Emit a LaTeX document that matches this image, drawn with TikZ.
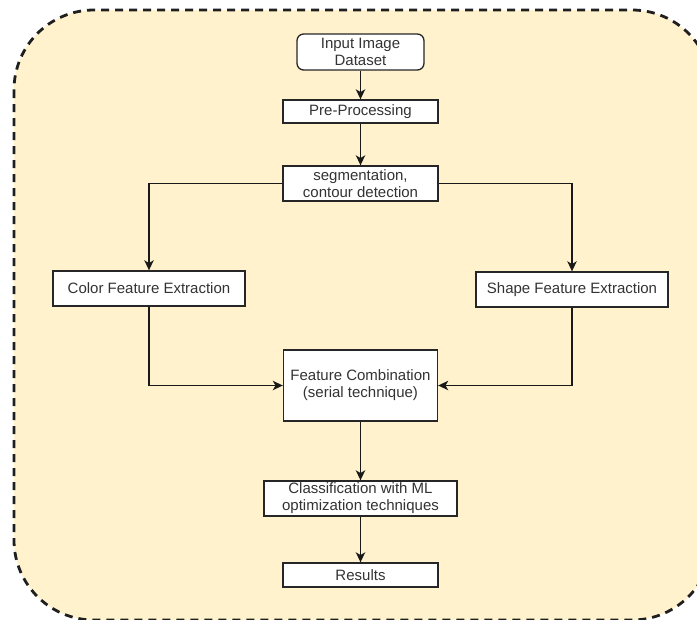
\documentclass[tikz,border=0pt]{standalone}
\usepackage{fontspec}
\setmainfont{Liberation Sans}
\usetikzlibrary{arrows.meta}
\definecolor{cream}{HTML}{FFF2CC}
\definecolor{edge}{HTML}{262626}
\definecolor{txt}{HTML}{333333}
\tikzset{
  box/.style={draw=edge, fill=white, line width=1pt, inner sep=0pt, align=center,
    text=txt, font=\fontsize{11.25}{12.75}\selectfont},
  conn/.style={draw=black!90, line width=1pt, -{Stealth[length=7.5pt,width=7pt,inset=2pt]}},
  frame/.style={draw=black!88, fill=cream, line width=2.1pt, dash pattern=on 6pt off 4.5pt, rounded corners=60pt}
}
\begin{document}
\begin{tikzpicture}[x=0.75pt,y=-0.75pt]
\useasboundingbox (0,0) rectangle (697,619);
\path[frame] (14,10) rectangle (712,620);
\node[box, rounded corners=5pt, minimum width=95.25pt, minimum height=27pt] (inp) at (360.5,52) {Input Image\\Dataset};
\node[box, minimum width=116.25pt, minimum height=17.25pt] (pre) at (360.5,111.5) {Pre-Processing};
\node[box, minimum width=116.25pt, minimum height=26.25pt] (seg) at (360.5,183.5) {segmentation,\\contour detection};
\node[box, minimum width=144pt, minimum height=26.25pt] (col) at (149,288.5) {Color Feature Extraction};
\node[box, minimum width=144pt, minimum height=26.25pt] (shp) at (572,289.5) {Shape Feature Extraction};
\node[box, minimum width=115.5pt, minimum height=53.25pt] (comb) at (360.5,385.5) {Feature Combination\\(serial technique)};
\node[box, minimum width=144.75pt, minimum height=26.25pt] (cls) at (360.5,498.5) {Classification with ML\\optimization techniques};
\node[box, minimum width=116.25pt, minimum height=18pt] (res) at (360.5,575) {Results};
\draw[conn] (inp.south) -- (pre.north);
\draw[conn] (pre.south) -- (seg.north);
\draw[conn] (seg.west) -| (col.north);
\draw[conn] (seg.east) -| (shp.north);
\draw[conn] (col.south) |- (comb.west);
\draw[conn] (shp.south) |- (comb.east);
\draw[conn] (comb.south) -- (cls.north);
\draw[conn] (cls.south) -- (res.north);
\end{tikzpicture}
\end{document}
